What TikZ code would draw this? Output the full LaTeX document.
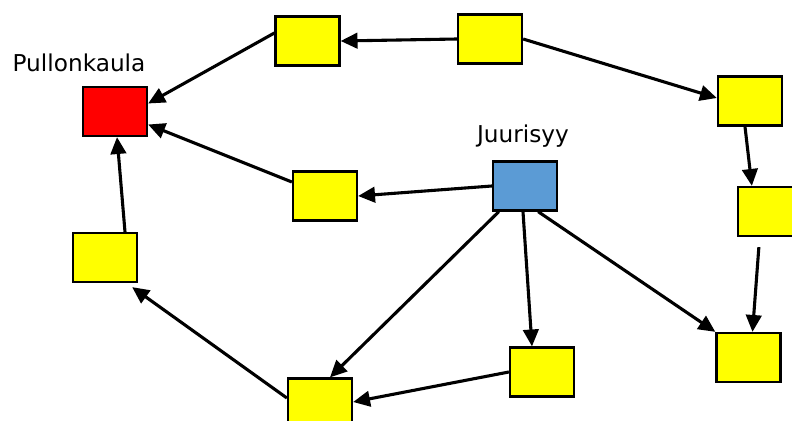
\documentclass[tikz,border=0pt]{standalone}
\usepackage{fontspec}
\newfontfamily\labelfont{DejaVu Sans}
\usetikzlibrary{arrows.meta,calc}
\definecolor{cause}{RGB}{91,155,213}
\definecolor{step yellow}{RGB}{255,255,0}
\definecolor{neckred}{RGB}{255,0,0}
\tikzset{
  box/.style={draw=black, line width=1.6pt, fill=step yellow, inner sep=0pt,
    minimum width=1.6cm, minimum height=1.225cm},
  arr/.style={line width=2.2pt, -{Triangle[length=12pt,width=11pt]}},
  lbl/.style={font=\labelfont\fontsize{16.5}{20}\selectfont}
}
\begin{document}
\begin{tikzpicture}[x=0.025cm,y=-0.025cm]
\useasboundingbox (0,0) rectangle (792,421);
\clip (0,0) rectangle (792,421);
% boxes
\node [box, fill=neckred] (neck) at (115,111.5) {};
\node [box] (top1) at (307.5,41) {};
\node [box] (top2) at (490,39) {};
\node [box] (right1) at (750,101) {};
\node [box] (right2) at (770,211.5) {};
\node [box] (right3) at (748.5,357.5) {};
\node [box] (mid) at (325,196) {};
\node [box, fill=cause] (root) at (525,186) {};
\node [box] (left) at (105,257.5) {};
\node [box] (bot1) at (320,403) {};
\node [box] (bot2) at (542,372) {};
\node [lbl] (necklbl) at (79,63) {Pullonkaula};
\node [lbl] (rootlbl) at (523,136) {Juurisyy};
% arrows
\draw [arr] (top2.west) -- (top1.east);
\draw [arr] (top2.east) -- ($(right1.west)+(0,-3)$);
\draw [arr] ($(top1.west)+(0,-8)$) -- ($(neck.east)+(0,-8)$);
\draw [arr] ($(mid.west)+(0,-14)$) -- ($(neck.east)+(0,13)$);
\draw [arr] (root.west) -- (mid.east);
\draw [arr] ($(root.south west)+(7,0)$) -- ($(bot1.north)+(10,0)$);
\draw [arr] ($(root.south)+(-2,0)$) -- ($(bot2.north)+(-10,0)$);
\draw [arr] ($(root.south east)+(-20,0)$) -- (right3.north west);
\draw [arr] (bot2.west) -- ($(bot1.east)+(0,-1)$);
\draw [arr] ($(bot1.west)+(0,-5)$) -- ($(left.south east)+(-6,4)$);
\draw [arr] ($(left.north)+(20,0)$) -- ($(neck.south)+(2,0)$);
\draw [arr] ($(right1.south)+(-5,0)$) -- ($(right2.north west)+(15,0)$);
\draw [arr] ($(right2.south west)+(22,10)$) -- ($(right3.north)+(4,0)$);
\end{tikzpicture}
\end{document}
